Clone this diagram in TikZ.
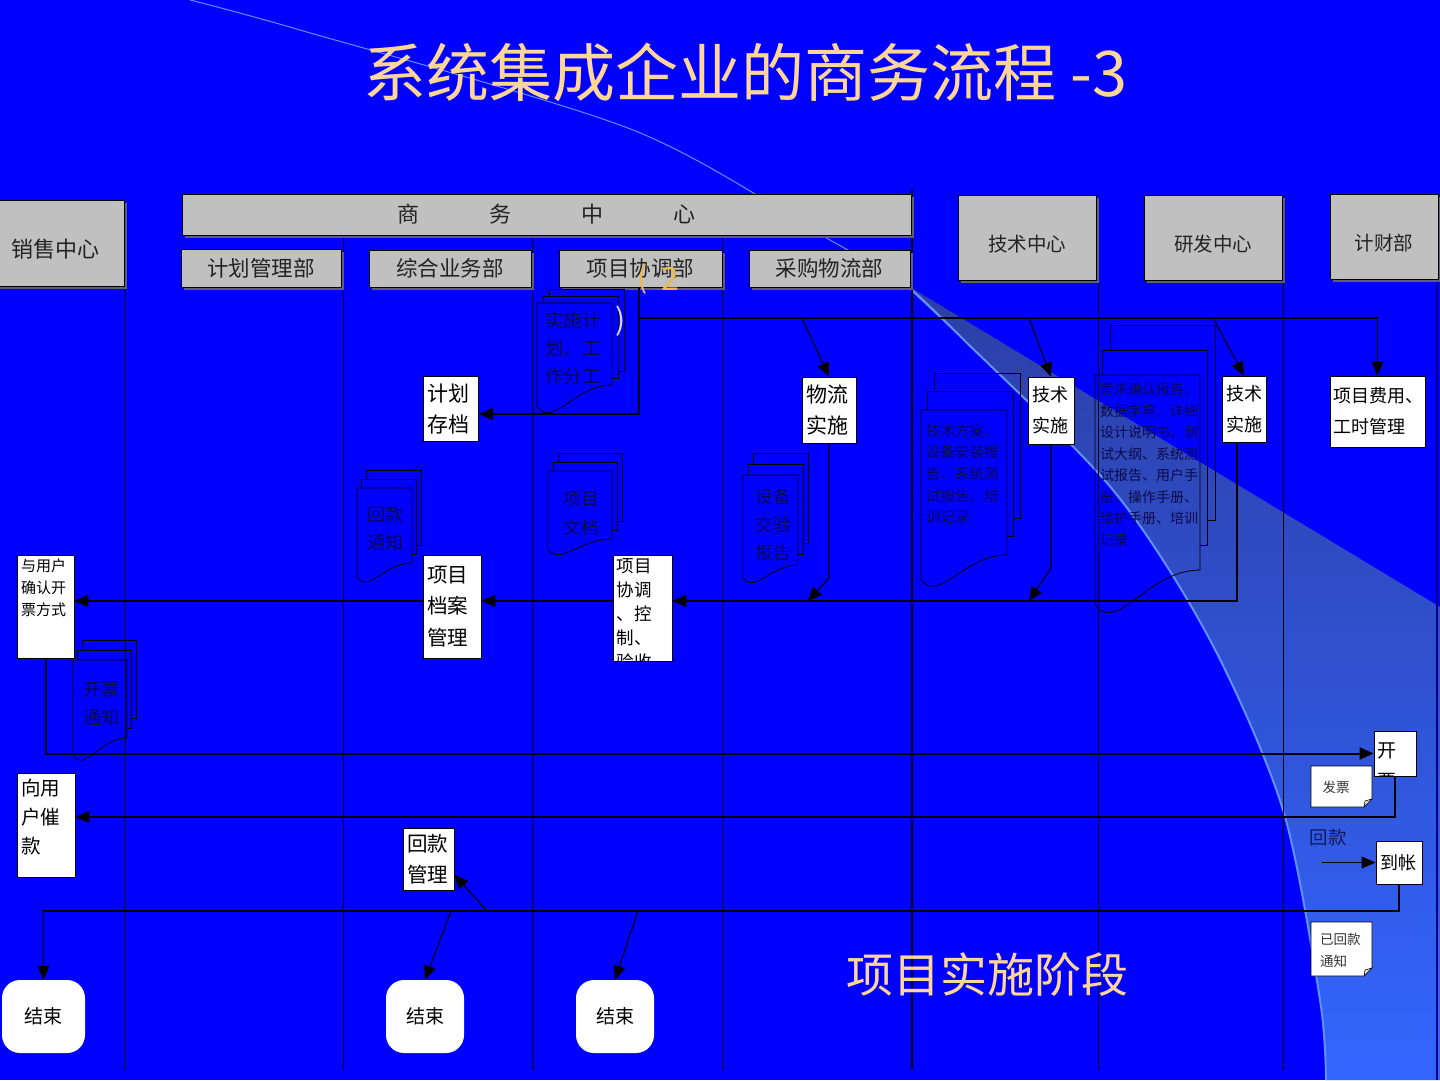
\documentclass[tikz,border=0pt]{standalone}
\usepackage{fontspec}
\setmainfont{Noto Sans CJK SC}
\usetikzlibrary{arrows.meta,shadows,calc}

\definecolor{slidebg}{RGB}{0,0,255}
\definecolor{bandtop}{RGB}{45,62,165}
\definecolor{bandbot}{RGB}{51,102,255}
\definecolor{swooshcol}{RGB}{95,145,255}
\definecolor{headgray}{RGB}{192,192,192}
\definecolor{headshadow}{RGB}{95,95,110}
\definecolor{headtext}{RGB}{35,35,35}
\definecolor{titlecol}{RGB}{255,214,150}
\definecolor{doctext}{RGB}{10,10,75}
\definecolor{numorange}{RGB}{235,185,80}
\definecolor{labelnavy}{RGB}{20,25,90}
\definecolor{edgenavy}{RGB}{0,0,130}

\newcommand{\fsz}[2]{\fontsize{#1pt}{#2pt}\selectfont}

% three stacked pages: x, y, width, right height, left height, dx, dy
\newcommand{\docstack}[7]{%
  \foreach \k in {2,1}
    \draw[docline] (#1+\k*#6,#2-\k*#7+#7) -- (#1+\k*#6,#2-\k*#7) -- (#1+#3+\k*#6,#2-\k*#7)
      -- (#1+#3+\k*#6,#2+#4-\k*#7) -- (#1+#3+\k*#6-#6,#2+#4-\k*#7);
  \draw[docline] (#1,#2) -- (#1+#3,#2) -- (#1+#3,#2+#4)
    .. controls (#1+0.5*#3,#2+#4) and (#1+0.22*#3,#2+1.6*#5-0.6*#4+8) .. (#1,#2+#5) -- cycle;
}

% note with turned corner: x0, y0, x1, y1
\newcommand{\foldnote}[4]{%
  \filldraw[notebox] (#1,#2) -- (#3,#2) -- (#3,#4-8) -- (#3-8,#4) -- (#1,#4) -- cycle;
  \filldraw[notebox, fill=gray!25] (#3,#4-8) -- (#3-8,#4) -- (#3-7,#4-6) -- cycle;
}

\begin{document}
\begin{tikzpicture}[x=1pt, y=-1pt,
    lane/.style={draw=black, line width=0.9pt},
    head/.style={draw=black, fill=headgray, line width=0.8pt, text=headtext, inner sep=0pt,
      drop shadow={shadow xshift=2.5pt, shadow yshift=-2.5pt, fill=headshadow, opacity=1}},
    headbig/.style={head, text height=28pt, text depth=0pt},
    proc/.style={draw=black, fill=white, line width=0.8pt, inner xsep=4pt, inner ysep=0pt, align=left},
    endbox/.style={fill=white, rounded corners=18pt, minimum height=73pt, font=\fsz{19}{19}},
    docline/.style={draw=black, line width=0.8pt},
    doctxt/.style={text=doctext, inner sep=0pt},
    notebox/.style={fill=white, draw=black, line width=0.6pt},
    conn/.style={draw=black, line width=1.1pt, -{Triangle[length=14pt,width=12pt]}},
    connthick/.style={conn, line width=2pt},
    bigtxt/.style={text=titlecol, inner sep=0pt}
]
    \useasboundingbox (0,0) rectangle (1440,1080);
    \fill[slidebg] (0,0) rectangle (1440,1080);

    % swoosh
    \shade[top color=bandtop, bottom color=bandbot]
        plot[smooth] coordinates {(905,284) (964,340) (1113,490) (1210,640) (1283,810) (1320,1000) (1326,1080)}
        -- (1440,1080) -- (1440,607) -- cycle;
    \draw[swooshcol, line width=1pt]
        plot[smooth] coordinates {(190,0) (300,30) (633,130) (830,240) (905,284) (964,340)};
    \draw[swooshcol, line width=2pt]
        plot[smooth] coordinates {(905,284) (964,340) (1113,490) (1210,640) (1283,810) (1320,1000) (1326,1080)};

    \node[bigtxt, font=\fsz{63}{63}] (title) at (745,72) {系统集成企业的商务流程 -3};

    % swimlanes
    \foreach \lx/\ly in {125/287, 343/236, 532/236, 722/236, 1098/280, 1283/280}
        \draw[lane] (\lx,\ly) -- (\lx,1070);
    \draw[lane, line width=1.6pt] (912,190) -- (912,1070);
    \draw[lane, draw=edgenavy, line width=1.5pt] (1437,279) -- (1437,1080);

    % headers
    \node[headbig, minimum width=138pt, minimum height=86pt, font=\fsz{22}{22}] (xszx) at (55,243) {销售中心};
    \node[head, minimum width=729pt, minimum height=41pt, font=\fsz{22}{22}] (swzx) at (546.5,214.5)
        {商\hspace{70pt}务\hspace{70pt}中\hspace{70pt}心};
    \node[head, minimum width=160pt, minimum height=38pt, font=\fsz{21.5}{21.5}] (jhglb) at (261,268) {计划管理部};
    \node[head, minimum width=162pt, minimum height=37pt, font=\fsz{21.5}{21.5}] (zhywb) at (450,268.5) {综合业务部};
    \node[head, minimum width=163pt, minimum height=37pt, font=\fsz{21.5}{21.5}] (xmxtb) at (640.5,268.5) {项目协调部};
    \node[head, minimum width=161pt, minimum height=37pt, font=\fsz{21.5}{21.5}] (cgwlb) at (829.5,268.5) {采购物流部};
    \node[headbig, minimum width=138pt, minimum height=85pt, font=\fsz{19.5}{19.5}] (jszx) at (1027,237.5) {技术中心};
    \node[headbig, minimum width=138pt, minimum height=85pt, font=\fsz{19.5}{19.5}] (yfzx) at (1213,237.5) {研发中心};
    \node[headbig, minimum width=108pt, minimum height=85pt, font=\fsz{19.5}{19.5}] (cwb) at (1384,236.5) {计财部};

    % documents
    \docstack{537}{303}{75}{82}{104}{6}{7}
    \docstack{357}{488}{55}{75}{89}{4.5}{9}
    \docstack{548}{471}{64}{68}{79}{5}{9}
    \docstack{743}{475}{55}{90}{103}{5}{11}
    \docstack{921}{410}{86}{145}{170}{6.5}{18.5}
    \docstack{1095}{375}{105}{195}{230}{7.5}{25}
    \docstack{73}{660}{54}{78}{95}{4.5}{10}
    \node[doctxt, anchor=west, align=left, font=\fsz{18.5}{28}] (ssjhT) at (545,348) {实施计\\划、工\\作分工};
    \node[doctxt, align=center, font=\fsz{18}{28}] (hktzT) at (385,529) {回款\\通知};
    \node[doctxt, align=center, font=\fsz{17.5}{29}] (xmwdT) at (581,513.5) {项目\\文档};
    \node[doctxt, align=center, font=\fsz{17.5}{28}] (sbjyT) at (773,525) {设备\\交验\\报告};
    \node[doctxt, anchor=west, align=left, font=\fsz{14.5}{21.7}] (jsfaT) at (926,474)
        {技术方案、\\设备安装报\\告、系统测\\试报告、培\\训记录};
    \node[doctxt, anchor=west, align=left, font=\fsz{14}{21.5}] (xqqrT) at (1100,464.5)
        {需求确认报告、\\数据字典、详细\\设计说明书、测\\试大纲、系统测\\试报告、用户手\\册、操作手册、\\维护手册、培训\\记录};
    \node[doctxt, align=center, font=\fsz{18}{28}] (kptzT) at (101,703.5) {开票\\通知};

    \node[text=numorange, font=\fsz{30}{30}, inner sep=0pt] (lpar) at (643,279) {(};
    \node[text=numorange, font=\fsz{32}{32}, inner sep=0pt] (num2) at (670,278.5) {2};
    \node[text={rgb,255:red,215;green,215;blue,240}, font=\fsz{30}{30}, inner sep=0pt] (rpar) at (621,321) {)};

    % process boxes
    \node[proc, text width=47pt, minimum height=65pt, font=\fsz{21}{31}] (jhcd) at (451,409) {计划\\存档};
    \node[proc, text width=46pt, minimum height=66pt, font=\fsz{21}{31}] (wlss) at (829,410) {物流\\实施};
    \node[proc, text width=38pt, minimum height=67pt, font=\fsz{18}{31}] (jsss1) at (1051,410.5) {技术\\实施};
    \node[proc, text width=36pt, minimum height=66pt, font=\fsz{18}{31}] (jsss2) at (1244,409) {技术\\实施};
    \node[proc, inner xsep=3pt, text width=89pt, minimum height=71pt, font=\fsz{18}{31}] (xmfy) at (1377.5,411.5) {项目费用、\\工时管理};
    \node[proc, inner sep=4pt, font=\fsz{15}{22}] (yyhq) at (45.5,606.5)
        {\parbox[c][95pt][t]{49pt}{与用户\\确认开\\票方式}};
    \node[proc, text width=50pt, minimum height=103pt, font=\fsz{20.5}{31.5}] (xmda) at (452,606.5) {项目\\档案\\管理};
    \node[proc, minimum width=59pt, minimum height=106pt] (xmxt) at (642.5,608) {};
    \begin{scope}
        \clip (xmxt.north west) rectangle (xmxt.south east);
        \node[anchor=north west, inner sep=0pt, align=left, font=\fsz{17.5}{24}] (xmxtT)
            at ([xshift=4pt,yshift=-4pt]xmxt.north west) {项目\\协调\\、控\\制、\\验收};
    \end{scope}
    \node[proc, minimum width=42pt, minimum height=45pt] (kp) at (1395,753.5) {};
    \begin{scope}
        \clip (kp.north west) rectangle (kp.south east);
        \node[anchor=north west, inner sep=0pt, align=left, font=\fsz{19}{31}] (kpT)
            at ([xshift=4pt,yshift=-11.5pt]kp.north west) {开\\票};
    \end{scope}
    \node[proc, inner xsep=4pt, inner ysep=6pt, font=\fsz{19.5}{29}] (xyhc) at (46,825)
        {\parbox[c][92pt][t]{50pt}{向用\\户催\\款}};
    \node[proc, text width=43pt, minimum height=62pt, font=\fsz{20.5}{31}] (hkgl) at (428.5,859) {回款\\管理};
    \node[proc, text width=38pt, minimum height=43pt, font=\fsz{18}{18}] (dz) at (1399,862.5) {到帐};

    % notes
    \foldnote{1311}{766}{1372}{807}
    \node[text=black!80, font=\fsz{13.5}{13.5}, inner sep=0pt] (fp) at (1336,787) {发票};
    \foldnote{1311}{922}{1372}{976}
    \node[text=black!80, anchor=west, align=left, font=\fsz{13.5}{22}, inner sep=0pt] (yhk) at (1320,950) {已回款\\通知};

    \node[text=labelnavy, font=\fsz{18.5}{18.5}, inner sep=0pt] (hklab) at (1328,837) {回款};

    % ends
    \node[endbox, minimum width=83pt] (js1) at (43.5,1016.5) {结束};
    \node[endbox, minimum width=78pt] (js2) at (425,1016.5) {结束};
    \node[endbox, minimum width=78pt] (js3) at (615,1016.5) {结束};

    \node[bigtxt, font=\fsz{47}{47}] (phase) at (987,975) {项目实施阶段};

    % connectors
    \coordinate (jhk) at (639,414);
    \coordinate (bus1) at (639,318);
    \coordinate (d1) at (802,318);
    \coordinate (d2) at (1029,318);
    \coordinate (d3) at (1213,318);
    \coordinate (wk1) at (0,578);
    \coordinate (r1) at (808,601);
    \coordinate (wk2) at (0,568);
    \coordinate (r2) at (1029,601);
    \coordinate (bus2) at (1237,601);
    \coordinate (bus3) at (0,817);
    \coordinate (hkin) at (1322,862.5);
    \coordinate (bus4) at (0,911);
    \coordinate (b1) at (487,911);
    \coordinate (b2) at (451,911);
    \coordinate (b3) at (638,911);

    \draw[connthick] (xmxtb.south -| jhk) -- (jhk) -- (jhk -| jhcd.east);
    \draw[conn] (bus1) -| (xmfy.north);
    \draw[conn] (d1) -- (wlss.north);
    \draw[conn] (d2) -- (jsss1.north);
    \draw[conn] (d3) -- (jsss2.north);
    \draw[conn] (wlss.south) -- (wlss.south |- wk1) -- (r1);
    \draw[conn] (jsss1.south) -- (jsss1.south |- wk2) -- (r2);
    \draw[conn] (jsss2.south -| bus2) -- (bus2) -- (bus2 -| xmxt.east);
    \draw[conn] (bus2 -| xmxt.west) -- (bus2 -| xmda.east);
    \draw[connthick] (bus2 -| xmda.west) -- (bus2 -| yyhq.east);
    \draw[connthick] (yyhq.south) |- (kp.west);
    \draw[conn] (kp.south) |- (xyhc.east |- bus3);
    \draw[conn] (hkin) -- (dz.west);
    \draw[conn] (dz.south) |- (js1.north |- bus4) -- (js1.north);
    \draw[conn] (b1) -- ($(hkgl.east)!0.5!(hkgl.south east)$);
    \draw[conn] (b2) -- (js2.north);
    \draw[conn] (b3) -- (js3.north);

\end{tikzpicture}
\end{document}
